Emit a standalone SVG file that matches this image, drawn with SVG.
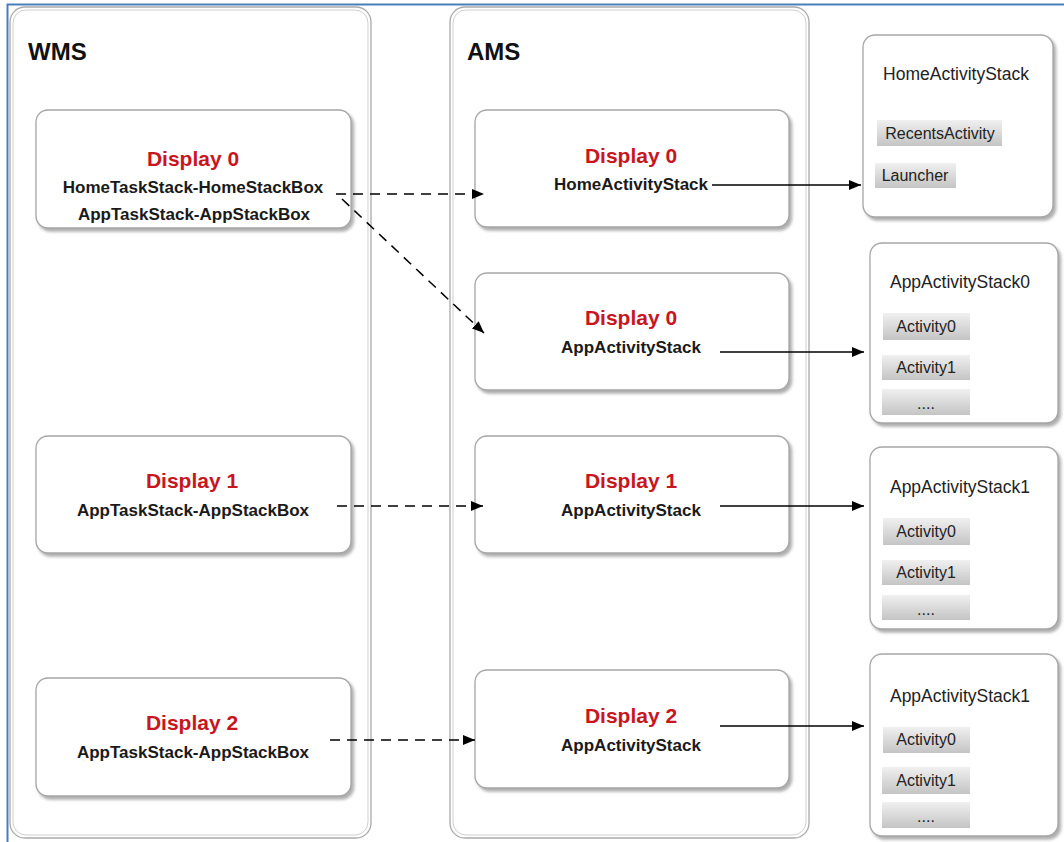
<svg xmlns="http://www.w3.org/2000/svg" width="1064" height="842" viewBox="0 0 1064 842">
<defs>
<filter id="sh" x="-10%" y="-10%" width="130%" height="130%">
<feDropShadow dx="2.5" dy="3" stdDeviation="1.5" flood-color="#9a9a9a" flood-opacity="0.8"/>
</filter>
<linearGradient id="chip" x1="0" y1="0" x2="0" y2="1">
<stop offset="0" stop-color="#f0f0f0"/>
<stop offset="1" stop-color="#c4c4c4"/>
</linearGradient>
<marker id="ah" markerWidth="12" markerHeight="10" refX="12" refY="5" orient="auto" markerUnits="userSpaceOnUse">
<path d="M0,0 L12,5 L0,10 Z" fill="#000"/>
</marker>
<style>
.cont{fill:#fff;stroke:#aaa;stroke-width:1.3}
.cin{fill:none;stroke:#cfcfcf;stroke-width:1}
.box{fill:#fff;stroke:#a6a6a6;stroke-width:1.3}
.chip{fill:url(#chip)}
.hd{font-family:"Liberation Sans",Arial,sans-serif;font-weight:bold;font-size:24px;fill:#111}
.red{font-family:"Liberation Sans",Arial,sans-serif;font-weight:bold;font-size:21px;fill:#c8161e;text-anchor:middle}
.sub{font-family:"Liberation Sans",Arial,sans-serif;font-weight:bold;font-size:17px;fill:#1a1a1a;text-anchor:middle}
.ttl{font-family:"Liberation Sans",Arial,sans-serif;font-size:17.5px;fill:#222;text-anchor:middle}
.ct{font-family:"Liberation Sans",Arial,sans-serif;font-size:16px;fill:#222;text-anchor:middle}
.dash{stroke:#000;stroke-width:1.5;stroke-dasharray:10 7;fill:none}
.sol{stroke:#000;stroke-width:1.5;fill:none}
</style>
</defs>
<rect x="0" y="0" width="1064" height="842" fill="#fff"/>
<path d="M7.5,842 V4.5 H1064" fill="none" stroke="#4a7ebb" stroke-width="2"/>

<g id="wms">
<rect class="cont" x="10" y="7" width="361" height="831" rx="15"/>
<rect class="cin" x="13" y="10" width="355" height="825" rx="13"/>
<text class="hd" x="28" y="60">WMS</text>
</g>
<g id="ams">
<rect class="cont" x="450" y="7" width="359" height="831" rx="15"/>
<rect class="cin" x="453" y="10" width="353" height="825" rx="13"/>
<text class="hd" x="467" y="60">AMS</text>
</g>

<g id="wms-d0">
<rect class="box" filter="url(#sh)" x="36" y="110" width="315" height="118" rx="12"/>
<text class="red" x="193" y="166">Display 0</text>
<text class="sub" x="193" y="193">HomeTaskStack-HomeStackBox</text>
<text class="sub" x="194" y="220">AppTaskStack-AppStackBox</text>
</g>
<g id="wms-d1">
<rect class="box" filter="url(#sh)" x="36" y="436" width="315" height="117" rx="12"/>
<text class="red" x="192" y="488">Display 1</text>
<text class="sub" x="193" y="516">AppTaskStack-AppStackBox</text>
</g>
<g id="wms-d2">
<rect class="box" filter="url(#sh)" x="36" y="678" width="315" height="118" rx="12"/>
<text class="red" x="192" y="730">Display 2</text>
<text class="sub" x="193" y="758">AppTaskStack-AppStackBox</text>
</g>

<g id="ams-d0-home">
<rect class="box" filter="url(#sh)" x="475" y="110" width="314" height="117" rx="12"/>
<text class="red" x="631" y="163">Display 0</text>
<text class="sub" x="631" y="190">HomeActivityStack</text>
</g>
<g id="ams-d0-app">
<rect class="box" filter="url(#sh)" x="475" y="273" width="314" height="117" rx="12"/>
<text class="red" x="631" y="325">Display 0</text>
<text class="sub" x="631" y="353">AppActivityStack</text>
</g>
<g id="ams-d1">
<rect class="box" filter="url(#sh)" x="475" y="436" width="314" height="117" rx="12"/>
<text class="red" x="631" y="488">Display 1</text>
<text class="sub" x="631" y="516">AppActivityStack</text>
</g>
<g id="ams-d2">
<rect class="box" filter="url(#sh)" x="475" y="670" width="314" height="118" rx="12"/>
<text class="red" x="631" y="723">Display 2</text>
<text class="sub" x="631" y="751">AppActivityStack</text>
</g>

<g id="home-stack">
<rect class="box" filter="url(#sh)" x="863" y="35" width="190" height="182" rx="12"/>
<text class="ttl" x="956" y="80">HomeActivityStack</text>
<rect class="chip" x="877" y="120" width="125" height="26"/>
<text class="ct" x="940" y="139">RecentsActivity</text>
<rect class="chip" x="875" y="163" width="81" height="25"/>
<text class="ct" x="915" y="181">Launcher</text>
</g>
<g id="app-stack0">
<rect class="box" filter="url(#sh)" x="870" y="243" width="188" height="180" rx="12"/>
<text class="ttl" x="960" y="288">AppActivityStack0</text>
<rect class="chip" x="883" y="313" width="87" height="27"/>
<text class="ct" x="926" y="332">Activity0</text>
<rect class="chip" x="882" y="355" width="88" height="25"/>
<text class="ct" x="926" y="373">Activity1</text>
<rect class="chip" x="882" y="389" width="88" height="26"/>
<text class="ct" x="926" y="409" font-size="10">....</text>
</g>
<g id="app-stack1">
<rect class="box" filter="url(#sh)" x="870" y="447" width="188" height="182" rx="12"/>
<text class="ttl" x="960" y="493">AppActivityStack1</text>
<rect class="chip" x="883" y="518" width="87" height="27"/>
<text class="ct" x="926" y="537">Activity0</text>
<rect class="chip" x="882" y="560" width="88" height="25"/>
<text class="ct" x="926" y="578">Activity1</text>
<rect class="chip" x="882" y="595" width="88" height="25"/>
<text class="ct" x="926" y="615" font-size="10">....</text>
</g>
<g id="app-stack1b">
<rect class="box" filter="url(#sh)" x="870" y="654" width="188" height="182" rx="12"/>
<text class="ttl" x="960" y="702">AppActivityStack1</text>
<rect class="chip" x="883" y="727" width="87" height="26"/>
<text class="ct" x="926" y="745">Activity0</text>
<rect class="chip" x="882" y="767" width="88" height="27"/>
<text class="ct" x="926" y="786">Activity1</text>
<rect class="chip" x="882" y="802" width="88" height="26"/>
<text class="ct" x="926" y="822" font-size="10">....</text>
</g>

<g id="connectors">
<line class="dash" x1="336" y1="194" x2="484" y2="194" marker-end="url(#ah)"/>
<line class="dash" x1="342" y1="199" x2="484" y2="333" marker-end="url(#ah)"/>
<line class="dash" x1="337" y1="506" x2="483" y2="506" marker-end="url(#ah)"/>
<line class="dash" x1="330" y1="740" x2="475" y2="740" marker-end="url(#ah)"/>
<line class="sol" x1="712" y1="185" x2="861" y2="185" marker-end="url(#ah)"/>
<line class="sol" x1="720" y1="352" x2="864" y2="352" marker-end="url(#ah)"/>
<line class="sol" x1="720" y1="506" x2="864" y2="506" marker-end="url(#ah)"/>
<line class="sol" x1="720" y1="726" x2="864" y2="726" marker-end="url(#ah)"/>
</g>
</svg>
